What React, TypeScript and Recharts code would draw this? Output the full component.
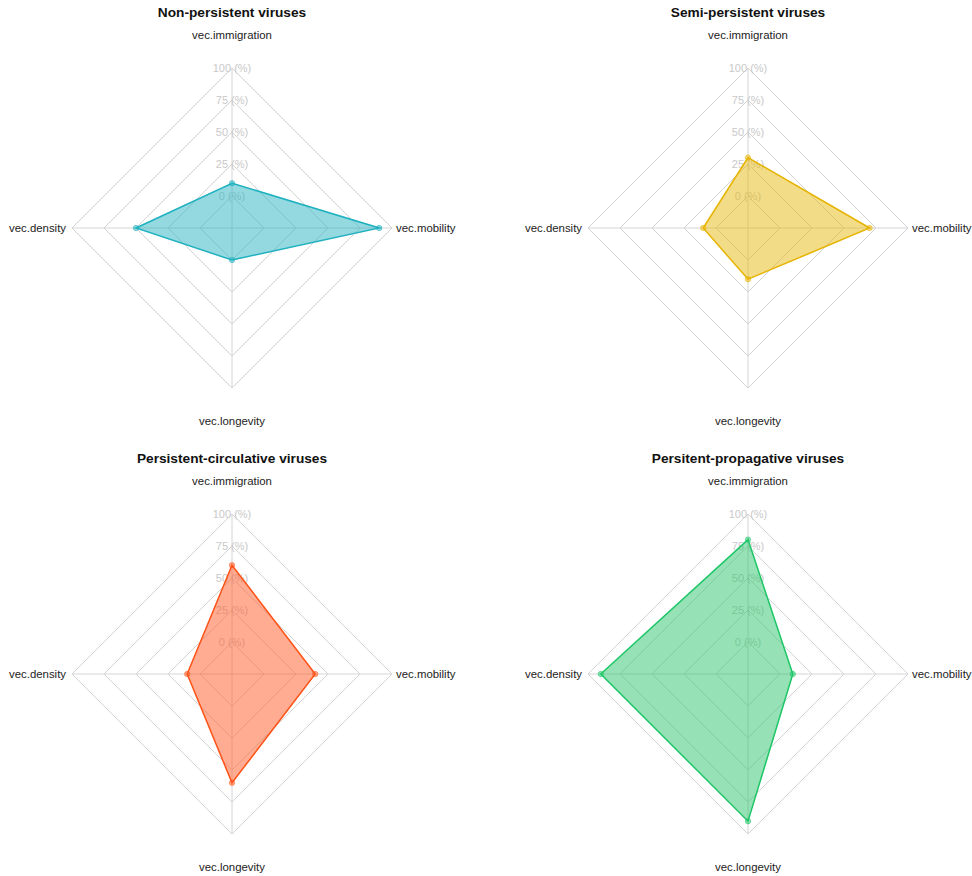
import { RadarChart, Radar, PolarGrid, PolarAngleAxis, PolarRadiusAxis } from 'recharts';

const axes = ['vec.immigration', 'vec.mobility', 'vec.longevity', 'vec.density'];

const nonPersistent = [10, 90, 0, 50];
const semiPersistent = [30, 70, 15, 10];
const persistentCirculative = [60, 40, 60, 10];
const persistentPropagative = [80, 10, 90, 90];

const radiusTicks = [-25, 0, 25, 50, 75, 100];

const panels = [
  { title: 'Non-persistent viruses', values: nonPersistent, stroke: '#1fb1bf', fill: '#2ab3c0', left: 0, top: 0 },
  { title: 'Semi-persistent viruses', values: semiPersistent, stroke: '#e6b300', fill: '#e8b90f', left: 516, top: 0 },
  { title: 'Persistent-circulative viruses', values: persistentCirculative, stroke: '#ff5216', fill: '#ff5a28', left: 0, top: 446 },
  { title: 'Persitent-propagative viruses', values: persistentPropagative, stroke: '#1dc667', fill: '#2ec66e', left: 516, top: 446 },
];

const font = '"Liberation Sans", Arial, sans-serif';

function angleTick(props: any) {
  const { x, y, payload } = props;
  const v = payload.value;
  let dx = 0;
  let dy = 0;
  let anchor = 'middle';
  if (v === 'vec.immigration') dy = -25;
  else if (v === 'vec.longevity') dy = 25;
  else if (v === 'vec.density') { dx = 2; anchor = 'end'; }
  else { dx = -4; anchor = 'start'; }
  return (
    <text x={x + dx} y={y + dy} textAnchor={anchor} dominantBaseline="central"
      fontSize={11.4} fill="#222" fontFamily={font}>
      {v}
    </text>
  );
}

function radiusTick(props: any) {
  const { x, y, payload } = props;
  if (payload.value < 0) return <g />;
  return (
    <text x={x} y={y} textAnchor="middle" dominantBaseline="central"
      fontSize={11} fill="#c9c9c9" fontFamily={font}>
      {`${payload.value} (%)`}
    </text>
  );
}

function Panel({ p }: { p: typeof panels[number] }) {
  const data = axes.map((a, i) => ({ axis: a, value: p.values[i] }));
  return (
    <div style={{ position: 'absolute', left: p.left, top: p.top, width: 456, height: 446 }}>
      <div style={{
        position: 'absolute', left: 0, width: 464, top: 5, textAlign: 'center',
        fontFamily: font, fontWeight: 'bold', fontSize: 13.7, color: '#111',
      }}>
        {p.title}
      </div>
      <RadarChart width={456} height={446} data={data} cx={232} cy={228} outerRadius={160}
        margin={{ top: 0, right: 0, bottom: 0, left: 0 }}>
        <PolarGrid gridType="polygon" stroke="#d4d4d4" />
        <PolarRadiusAxis angle={90} type="number" domain={[-25, 100]} ticks={radiusTicks as any}
          tickCount={6} axisLine={false} tick={radiusTick} {...({ zIndex: -50 } as any)} />
        <PolarAngleAxis dataKey="axis" tick={angleTick} tickLine={false} axisLine={false} />
        <Radar dataKey="value" stroke={p.stroke} strokeWidth={1.5} fill={p.fill} fillOpacity={0.5}
          dot={{ r: 2.7, fill: p.stroke, stroke: p.stroke, strokeWidth: 0.5 }} isAnimationActive={false} />
      </RadarChart>
    </div>
  );
}

export default function App() {
  return (
    <div style={{ position: 'absolute', left: 0, top: 0, width: 972, height: 876, background: '#fff' }}>
      {panels.map((p) => <Panel key={p.title} p={p} />)}
    </div>
  );
}
